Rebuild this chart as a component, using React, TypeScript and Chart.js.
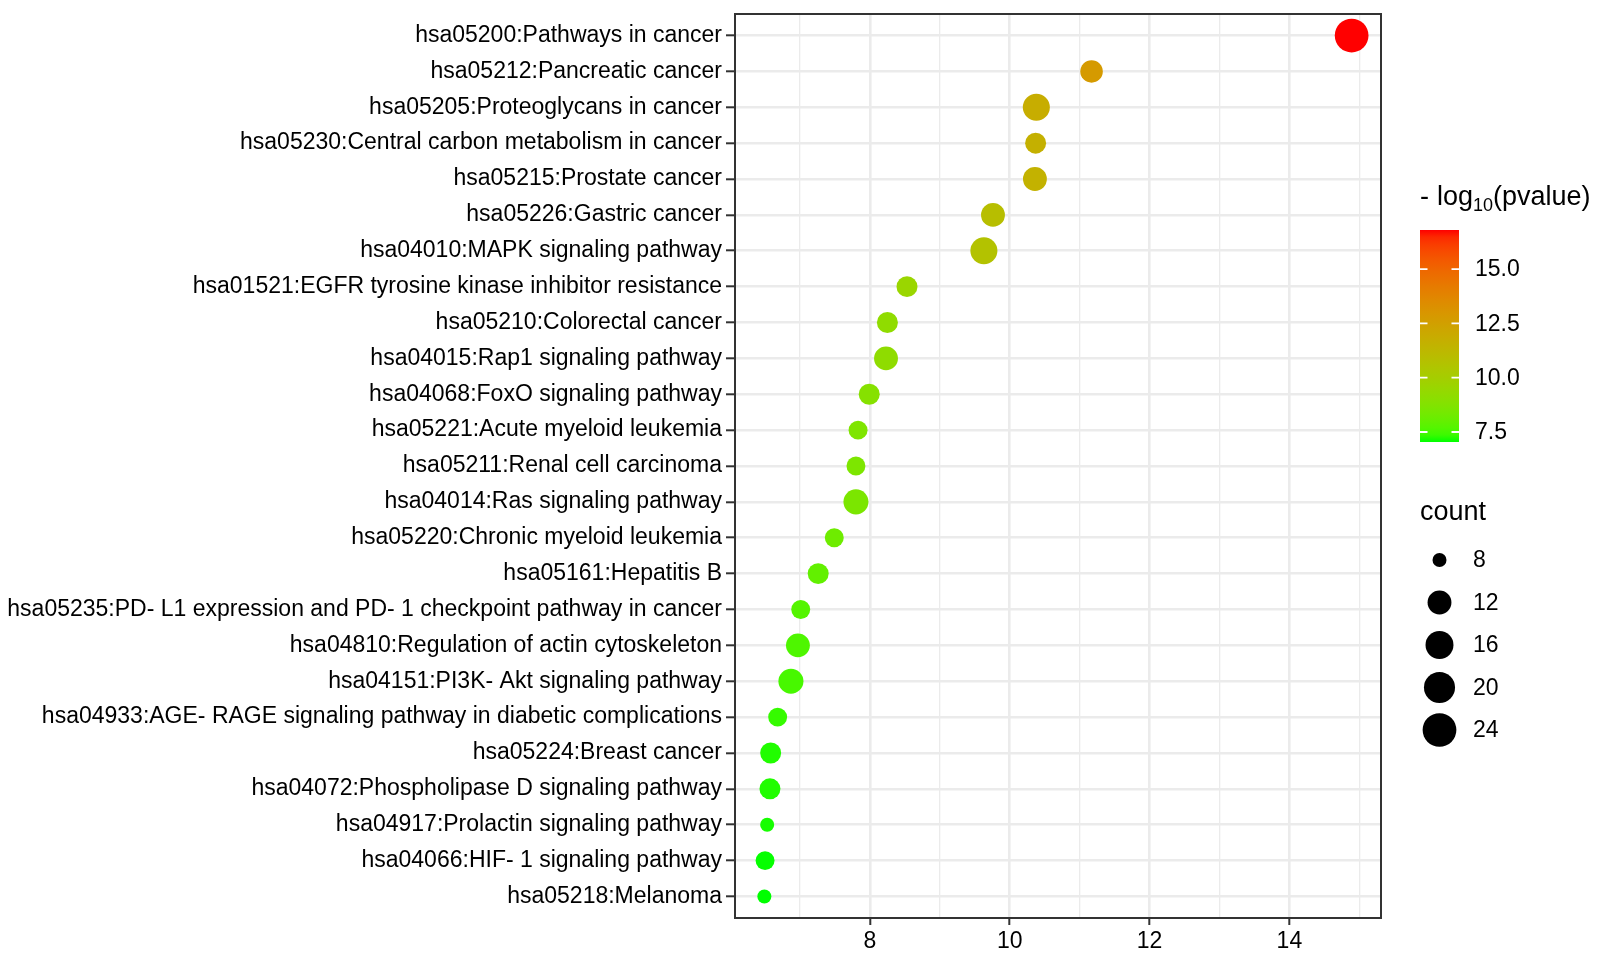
import React, { useEffect, useRef } from "react";
import { Chart, registerables } from "chart.js";

Chart.register(...registerables);

const FONT = '"Liberation Sans", Arial, Helvetica, sans-serif';

// ---------------- data ----------------
const pathways = [
  "hsa05200:Pathways in cancer",
  "hsa05212:Pancreatic cancer",
  "hsa05205:Proteoglycans in cancer",
  "hsa05230:Central carbon metabolism in cancer",
  "hsa05215:Prostate cancer",
  "hsa05226:Gastric cancer",
  "hsa04010:MAPK signaling pathway",
  "hsa01521:EGFR tyrosine kinase inhibitor resistance",
  "hsa05210:Colorectal cancer",
  "hsa04015:Rap1 signaling pathway",
  "hsa04068:FoxO signaling pathway",
  "hsa05221:Acute myeloid leukemia",
  "hsa05211:Renal cell carcinoma",
  "hsa04014:Ras signaling pathway",
  "hsa05220:Chronic myeloid leukemia",
  "hsa05161:Hepatitis B",
  "hsa05235:PD- L1 expression and PD- 1 checkpoint pathway in cancer",
  "hsa04810:Regulation of actin cytoskeleton",
  "hsa04151:PI3K- Akt signaling pathway",
  "hsa04933:AGE- RAGE signaling pathway in diabetic complications",
  "hsa05224:Breast cancer",
  "hsa04072:Phospholipase D signaling pathway",
  "hsa04917:Prolactin signaling pathway",
  "hsa04066:HIF- 1 signaling pathway",
  "hsa05218:Melanoma",
];

const xValues = [
  14.89, 11.17, 10.38, 10.37, 10.36, 9.76, 9.63, 8.53, 8.25, 8.23, 7.99, 7.83,
  7.8, 7.8, 7.49, 7.26, 7.01, 6.97, 6.87, 6.68, 6.58, 6.57, 6.53, 6.5, 6.49,
];

const counts = [
  24, 11, 15, 10, 12, 12, 15, 10, 10, 12, 10, 9, 9, 13, 9, 10, 9, 12, 13, 9, 10,
  10, 8, 9, 8,
];

const logP = [
  16.8, 12.8, 11.8, 11.65, 11.55, 10.9, 10.7, 9.55, 9.2, 9.15, 8.85, 8.65, 8.6,
  8.55, 8.2, 7.95, 7.7, 7.6, 7.5, 7.3, 7.15, 7.15, 7.1, 7.05, 7.04,
];

const xTickValues = [7, 8, 9, 10, 11, 12, 13, 14, 15];
const xMajorTicks = [8, 10, 12, 14];
const colorTicks = [7.5, 10.0, 12.5, 15.0];
const sizeBreaks = [8, 12, 16, 20, 24];

// ---------------- colour (Lab interpolation, green -> red) ----------------
function srgbToLinear(c: number) {
  c /= 255;
  return c <= 0.04045 ? c / 12.92 : Math.pow((c + 0.055) / 1.055, 2.4);
}
function linearToSrgb(c: number) {
  const v = c <= 0.0031308 ? 12.92 * c : 1.055 * Math.pow(c, 1 / 2.4) - 0.055;
  return Math.max(0, Math.min(255, Math.round(v * 255)));
}
const XN = 0.95047, YN = 1, ZN = 1.08883;
function fLab(t: number) {
  return t > 0.008856 ? Math.cbrt(t) : 7.787 * t + 16 / 116;
}
function fInv(t: number) {
  const t3 = t * t * t;
  return t3 > 0.008856 ? t3 : (t - 16 / 116) / 7.787;
}
function rgbToLab(r: number, g: number, b: number) {
  const R = srgbToLinear(r), G = srgbToLinear(g), B = srgbToLinear(b);
  const X = 0.4124 * R + 0.3576 * G + 0.1805 * B;
  const Y = 0.2126 * R + 0.7152 * G + 0.0722 * B;
  const Z = 0.0193 * R + 0.1192 * G + 0.9505 * B;
  const fx = fLab(X / XN), fy = fLab(Y / YN), fz = fLab(Z / ZN);
  return [116 * fy - 16, 500 * (fx - fy), 200 * (fy - fz)];
}
function labToRgb(L: number, a: number, b: number) {
  const fy = (L + 16) / 116;
  const fx = fy + a / 500;
  const fz = fy - b / 200;
  const X = XN * fInv(fx), Y = YN * fInv(fy), Z = ZN * fInv(fz);
  const R = 3.2406 * X - 1.5372 * Y - 0.4986 * Z;
  const G = -0.9689 * X + 1.8758 * Y + 0.0415 * Z;
  const B = 0.0557 * X - 0.204 * Y + 1.057 * Z;
  return [linearToSrgb(R), linearToSrgb(G), linearToSrgb(B)];
}
const LOW_LAB = rgbToLab(0, 255, 0);
const HIGH_LAB = rgbToLab(255, 0, 0);
const cMin = Math.min(...logP);
const cMax = Math.max(...logP);
function colorFor(v: number) {
  const t = Math.max(0, Math.min(1, (v - cMin) / (cMax - cMin)));
  const L = LOW_LAB[0] + (HIGH_LAB[0] - LOW_LAB[0]) * t;
  const A = LOW_LAB[1] + (HIGH_LAB[1] - LOW_LAB[1]) * t;
  const B = LOW_LAB[2] + (HIGH_LAB[2] - LOW_LAB[2]) * t;
  const [r, g, b] = labToRgb(L, A, B);
  return `rgb(${r},${g},${b})`;
}

// ---------------- size (area scale) ----------------
const countMin = Math.min(...counts);
function radiusFor(c: number) {
  return (14 + 4.93 * Math.sqrt(Math.max(0, c - countMin))) / 2;
}

// x limits with 5% expansion (ggplot default)
const xLo = Math.min(...xValues);
const xHi = Math.max(...xValues);
const xPad = (xHi - xLo) * 0.05;

const PANEL_TOP = 14;

// ---------------- plugins ----------------
const fixTopPlugin = {
  id: "fixTop",
  afterLayout(chart: any) {
    const area = chart.chartArea;
    if (Math.abs(area.top - PANEL_TOP) > 0.01) {
      area.top = PANEL_TOP;
      area.height = area.bottom - area.top;
      const y = chart.scales.y;
      y.top = PANEL_TOP;
      y.height = y.bottom - y.top;
      y.configure();
      y._labelItems = null;
    }
  },
};

const borderPlugin = {
  id: "panelBorder",
  afterDraw(chart: any) {
    const { ctx, chartArea } = chart;
    ctx.save();
    ctx.strokeStyle = "#333333";
    ctx.lineWidth = 2;
    ctx.strokeRect(
      chartArea.left,
      chartArea.top,
      chartArea.right - chartArea.left,
      chartArea.bottom - chartArea.top
    );
    ctx.restore();
  },
};

const legendPlugin = {
  id: "ggLegend",
  afterDraw(chart: any) {
    const ctx = chart.ctx as CanvasRenderingContext2D;
    ctx.save();
    ctx.fillStyle = "#000";
    ctx.textAlign = "left";
    ctx.textBaseline = "alphabetic";

    // colour bar title: - log10(pvalue)
    ctx.font = `27px ${FONT}`;
    ctx.fillText("-", 1420, 205);
    let x = 1437;
    ctx.fillText("log", x, 205);
    x += ctx.measureText("log").width;
    ctx.font = `18px ${FONT}`;
    ctx.fillText("10", x, 211);
    x += ctx.measureText("10").width;
    ctx.font = `27px ${FONT}`;
    ctx.fillText("(pvalue)", x, 205);

    // colour bar
    const barL = 1420, barR = 1459, barT = 230, barB = 442;
    const grad = ctx.createLinearGradient(0, barB, 0, barT);
    const N = 30;
    for (let i = 0; i <= N; i++) {
      const v = cMin + ((cMax - cMin) * i) / N;
      grad.addColorStop(i / N, colorFor(v));
    }
    ctx.fillStyle = grad;
    ctx.fillRect(barL, barT, barR - barL, barB - barT);

    ctx.strokeStyle = "#ffffff";
    ctx.lineWidth = 1.8;
    ctx.font = `23px ${FONT}`;
    ctx.textBaseline = "middle";
    ctx.fillStyle = "#000";
    for (const v of colorTicks) {
      const y = barB - ((v - cMin) / (cMax - cMin)) * (barB - barT);
      ctx.beginPath();
      ctx.moveTo(barL, y);
      ctx.lineTo(barL + 7.5, y);
      ctx.moveTo(barR - 7.5, y);
      ctx.lineTo(barR, y);
      ctx.stroke();
      ctx.fillText(v.toFixed(1), 1475, y + 1);
    }

    // size legend
    ctx.textBaseline = "alphabetic";
    ctx.font = `27px ${FONT}`;
    ctx.fillText("count", 1420, 520);
    ctx.font = `23px ${FONT}`;
    ctx.textBaseline = "middle";
    sizeBreaks.forEach((c, i) => {
      const cy = 560 + i * 42.5;
      ctx.beginPath();
      ctx.fillStyle = "#000";
      ctx.arc(1439.5, cy, radiusFor(c), 0, Math.PI * 2);
      ctx.fill();
      ctx.fillText(String(c), 1473, cy + 1);
    });
    ctx.restore();
  },
};

export default function App() {
  const ref = useRef<HTMLCanvasElement | null>(null);

  useEffect(() => {
    document.body.style.margin = "0";
    const canvas = ref.current;
    if (!canvas) return;

    const chart = new Chart(canvas, {
      type: "scatter",
      data: {
        datasets: [
          {
            data: xValues.map((x, i) => ({ x, y: i })),
            pointBackgroundColor: logP.map(colorFor),
            pointBorderWidth: 0,
            pointRadius: counts.map(radiusFor),
            pointHoverRadius: counts.map(radiusFor),
            clip: false as any,
          } as any,
        ],
      },
      options: {
        responsive: false,
        animation: false,
        devicePixelRatio: 1,
        layout: {
          autoPadding: false,
          padding: { left: 0, right: 219, top: PANEL_TOP, bottom: 0 },
        },
        plugins: {
          legend: { display: false },
          tooltip: { enabled: false },
        },
        scales: {
          x: {
            type: "linear",
            min: xLo - xPad,
            max: xHi + xPad,
            afterBuildTicks: (s: any) => {
              s.ticks = xTickValues.map((v) => ({ value: v }));
            },
            afterFit: (s: any) => {
              s.height = 42;
            },
            ticks: {
              autoSkip: false,
              maxRotation: 0,
              padding: 3,
              color: "#000",
              font: { family: FONT, size: 23 },
              callback: (v: any) => (xMajorTicks.includes(Number(v)) ? String(v) : ""),
            },
            grid: {
              color: "#EBEBEB",
              lineWidth: (ctx: any) =>
                xMajorTicks.includes(ctx.tick?.value) ? 2.6 : 1.3,
              tickColor: (ctx: any) =>
                xMajorTicks.includes(ctx.tick?.value) ? "#333333" : "rgba(0,0,0,0)",
              tickLength: 7,
              tickWidth: 2,
            },
            border: { display: false },
          },
          y: {
            type: "linear",
            reverse: true,
            min: -0.6,
            max: pathways.length - 1 + 0.6,
            afterBuildTicks: (s: any) => {
              s.ticks = pathways.map((_, i) => ({ value: i }));
            },
            afterFit: (s: any) => {
              s.width = 735;
              s.paddingTop = 0;
              s.paddingBottom = 0;
            },
            ticks: {
              autoSkip: false,
              padding: 4,
              color: "#000",
              font: { family: FONT, size: 23 },
              callback: (v: any) => pathways[Number(v)] ?? "",
            },
            grid: {
              color: "#EBEBEB",
              lineWidth: 2.6,
              tickColor: "#333333",
              tickLength: 9,
              tickWidth: 2,
            },
            border: { display: false },
          },
        },
      },
      plugins: [fixTopPlugin, borderPlugin, legendPlugin],
    } as any);

    return () => chart.destroy();
  }, []);

  return (
    <div style={{ position: "absolute", left: 0, top: 0, width: 1600, height: 960, background: "#fff" }}>
      <canvas ref={ref} width={1600} height={960} style={{ display: "block" }} />
    </div>
  );
}
